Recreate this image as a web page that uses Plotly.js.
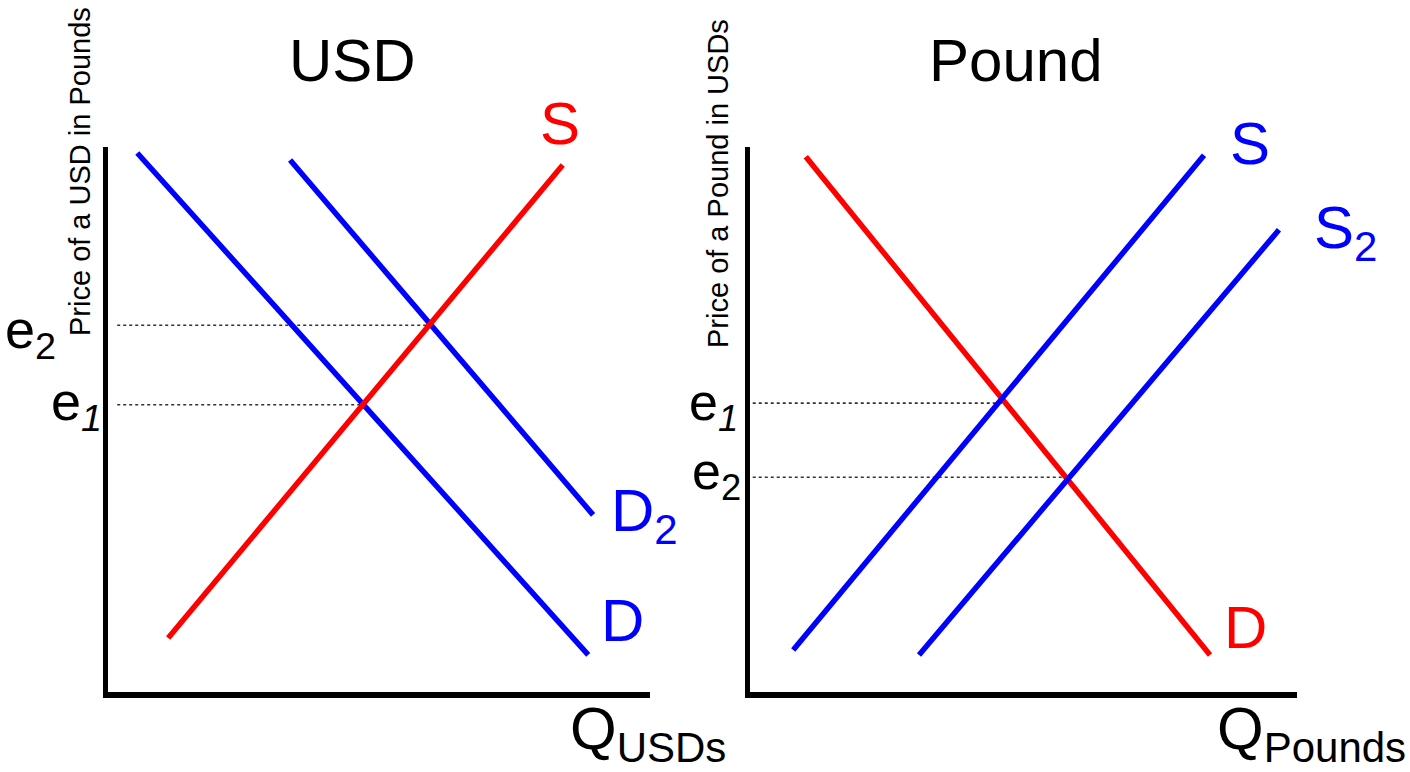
<!DOCTYPE html>
<html><head><meta charset="utf-8">
<script src="https://cdn.plot.ly/plotly-3.0.1.min.js"></script>
<style>html,body{margin:0;padding:0;background:#fff;}#chart{width:1410px;height:772px;}</style>
</head><body><div id="chart"></div>
<script>
// ---- USD market (left panel), units 0-100 on both axes ----
const usdD_x = [5.4, 88.6];
const usdD_y = [98.9, 6.8];
const usdD2_x = [33.6, 89.5];
const usdD2_y = [97.6, 32.5];
const usdS_x = [11.1, 83.9];
const usdS_y = [9.9, 96.7];
const usdE2_x = [1.7, 59.4];
const usdE2_y = [67.3, 67.3];
const usdE1_x = [1.7, 47.0];
const usdE1_y = [52.7, 52.7];

// ---- Pound market (right panel) ----
const gbpD_x = [10.2, 84.1];
const gbpD_y = [98.2, 6.8];
const gbpS_x = [7.9, 83.0];
const gbpS_y = [7.7, 98.5];
const gbpS2_x = [30.9, 96.7];
const gbpS2_y = [6.8, 84.8];
const gbpE1_x = [0.5, 46.1];
const gbpE1_y = [53.0, 53.0];
const gbpE2_x = [0.5, 58.1];
const gbpE2_y = [39.4, 39.4];

const BLUE = 'rgb(0,0,255)';
const RED = 'rgb(255,0,0)';
const DOT = '#333';
const FONT = 'Liberation Sans, Arial, sans-serif';

function ln(x, y, color, xa, ya, w, dash) {
  return {x: x, y: y, mode: 'lines', type: 'scatter', xaxis: xa, yaxis: ya,
    line: {color: color, width: w, dash: dash || 'solid'}, hoverinfo: 'skip', showlegend: false};
}

const traces = [
  ln(usdE2_x, usdE2_y, DOT, 'x', 'y', 1.6, 'dot'),
  ln(usdE1_x, usdE1_y, DOT, 'x', 'y', 1.6, 'dot'),
  ln(usdD_x, usdD_y, BLUE, 'x', 'y', 5.5),
  ln(usdD2_x, usdD2_y, BLUE, 'x', 'y', 5.5),
  ln(usdS_x, usdS_y, RED, 'x', 'y', 5.5),
  ln(gbpE1_x, gbpE1_y, DOT, 'x2', 'y2', 1.6, 'dot'),
  ln(gbpE2_x, gbpE2_y, DOT, 'x2', 'y2', 1.6, 'dot'),
  ln(gbpD_x, gbpD_y, RED, 'x2', 'y2', 5.5),
  ln(gbpS_x, gbpS_y, BLUE, 'x2', 'y2', 5.5),
  ln(gbpS2_x, gbpS2_y, BLUE, 'x2', 'y2', 5.5)
];

const W = 1410, H = 772;
function px(x) { return x / W; }
function py(y) { return 1 - y / H; }

const axBase = {range: [0, 100], showgrid: false, zeroline: false, showticklabels: false,
  ticks: '', showline: true, linecolor: '#000', linewidth: 5.5, fixedrange: true};

function ann(text, x, y, size, color, extra) {
  return Object.assign({text: text, x: px(x), y: py(y), xref: 'paper', yref: 'paper',
    showarrow: false, xanchor: 'center', yanchor: 'middle',
    font: {family: FONT, size: size, color: color}}, extra || {});
}

const annotations = [
  ann('USD', 352, 60, 60, '#000'),
  ann('Pound', 1016, 60, 60, '#000'),
  ann('Price of a USD in Pounds', 80, 172, 29, '#000', {textangle: -90}),
  ann('Price of a Pound in USDs', 718, 183, 29, '#000', {textangle: -90}),
  ann('S', 560, 123, 60, RED),
  ann('D<sub>2</sub>', 644, 515, 60, BLUE),
  ann('D', 622, 620, 60, BLUE),
  ann('S', 1250, 143, 60, BLUE),
  ann('S<sub>2</sub>', 1345, 232, 60, BLUE),
  ann('D', 1245, 627, 60, RED),
  ann('Q<sub>USDs</sub>', 648, 733, 60, '#000'),
  ann('Q<sub>Pounds</sub>', 1311, 733, 60, '#000'),
  ann('e<sub>2</sub>', 58, 333, 54, '#000', {xanchor: 'right'}),
  ann('e<sub><i>1</i></sub>', 104, 405, 54, '#000', {xanchor: 'right'}),
  ann('e<sub><i>1</i></sub>', 740, 406, 52, '#000', {xanchor: 'right'}),
  ann('e<sub>2</sub>', 743, 475, 52, '#000', {xanchor: 'right'})
];

const layout = {
  width: W, height: H,
  margin: {l: 0, r: 0, t: 0, b: 0, pad: 0},
  paper_bgcolor: '#fff', plot_bgcolor: 'rgba(0,0,0,0)',
  showlegend: false,
  xaxis: Object.assign({}, axBase, {domain: [px(108), px(650)], anchor: 'y'}),
  yaxis: Object.assign({}, axBase, {domain: [py(692), py(147)], anchor: 'x'}),
  xaxis2: Object.assign({}, axBase, {domain: [px(750), px(1297)], anchor: 'y2'}),
  yaxis2: Object.assign({}, axBase, {domain: [py(692), py(147)], anchor: 'x2'}),
  annotations: annotations
};

Plotly.newPlot('chart', traces, layout, {displayModeBar: false, staticPlot: true});
</script>
</body></html>
